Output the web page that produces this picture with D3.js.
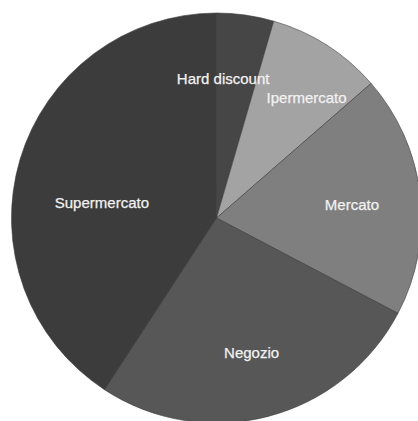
<!DOCTYPE html>
<html>
<head>
<meta charset="utf-8">
<script src="https://cdn.jsdelivr.net/npm/d3@7"></script>
<style>
  html, body { margin: 0; padding: 0; background: #ffffff; }
  svg { display: block; }
</style>
</head>
<body>
<svg id="chart" width="418" height="421"></svg>
<script>
// Canali d'acquisto (quote percentuali)
const categories = ["Hard discount", "Ipermercato", "Mercato", "Negozio", "Supermercato"];
const values = [4.5, 9.1, 19.1, 26.5, 40.8];
const colors = ["#464646", "#a3a3a3", "#7f7f7f", "#575757", "#3c3c3c"];

const width = 418, height = 421;
const cx = 216.5, cy = 218, radius = 205;

const svg = d3.select("#chart");
const g = svg.append("g").attr("transform", `translate(${cx},${cy})`);

const data = categories.map((c, i) => ({ name: c, value: values[i], color: colors[i] }));

const pie = d3.pie().value(d => d.value).sort(null);
const arcs = pie(data);

const arc = d3.arc().innerRadius(0).outerRadius(radius);
const labelArc = d3.arc().innerRadius(radius * 0.68).outerRadius(radius * 0.68);

g.selectAll("path.slice")
  .data(arcs)
  .enter().append("path")
  .attr("class", "slice")
  .attr("d", arc)
  .attr("fill", d => d.data.color)
  .attr("stroke", "#3a3a3a")
  .attr("stroke-width", 0.6);

// small offsets to keep neighbouring labels apart
const labelShift = {
  "Hard discount": [-13, -1],
  "Ipermercato": [15, -3],
  "Mercato": [-3, 3],
  "Negozio": [0, 0],
  "Supermercato": [19, 24]
};

g.selectAll("text.label")
  .data(arcs)
  .enter().append("text")
  .attr("class", "label")
  .attr("transform", d => {
    const [x, y] = labelArc.centroid(d);
    const [sx, sy] = labelShift[d.data.name];
    return `translate(${x + sx},${y + sy})`;
  })
  .attr("text-anchor", "middle")
  .attr("dy", "0.35em")
  .attr("fill", "#f2f2f2")
  .attr("stroke", "#f2f2f2")
  .attr("stroke-width", 0.25)
  .style("font-family", "'Liberation Sans', Arial, Helvetica, sans-serif")
  .style("font-size", "15px")
  .text(d => d.data.name);
</script>
</body>
</html>
